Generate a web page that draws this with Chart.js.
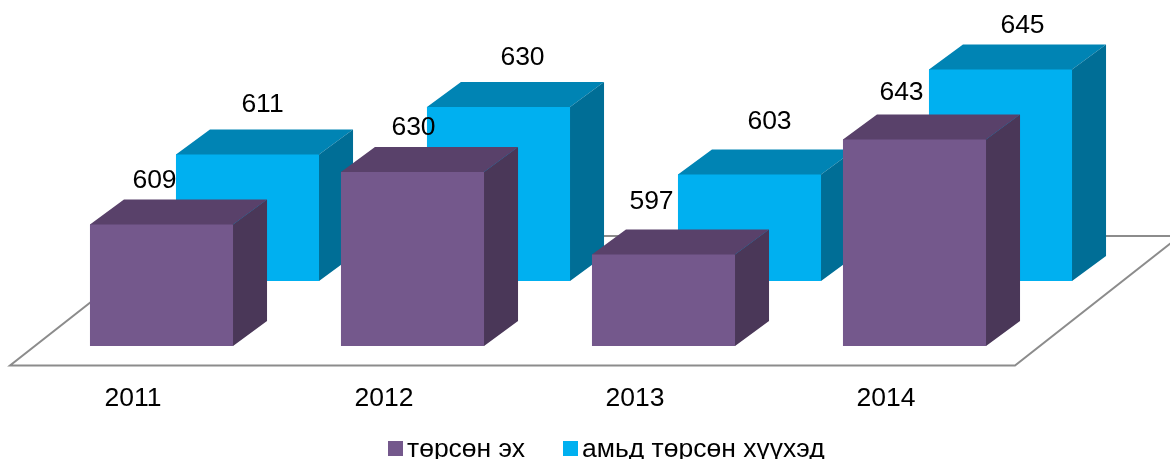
<!DOCTYPE html>
<html>
<head>
<meta charset="utf-8">
<script src="https://cdn.jsdelivr.net/npm/chart.js@4"></script>
<style>
  html, body { margin: 0; padding: 0; background: #fff; overflow: hidden; }
  canvas { display: block; }
</style>
</head>
<body>
<canvas id="chart" width="1170" height="459"></canvas>
<script>
const years = ['2011', '2012', '2013', '2014'];
const mothers = [609, 630, 597, 643];
const liveBirths = [611, 630, 603, 645];

const FONT = '"Liberation Sans", Arial, sans-serif';
const AXIS_MIN = 560.4;
const AXIS_MAX = 698.8;

// 3d look: how far a box goes back, and how far the back row sits from the front row
const depth = { x: 34, y: -25 };
const rowShift = [{ x: 0, y: 0 }, { x: 86, y: -65 }];

const faces = [
  { top: '#59416a', side: '#4a3758' },
  { top: '#0084b4', side: '#006e96' }
];

// value labels were placed by hand in the original, offset from the top middle of each box
const labelNudge = [
  [[-7, -44], [1, -44], [-12, -53], [-13, -47]],
  [[15, -50], [24, -49], [20, -53], [22, -44]]
];

function poly(ctx, pts, color) {
  ctx.fillStyle = color;
  ctx.beginPath();
  pts.forEach((p, i) => i ? ctx.lineTo(p[0], p[1]) : ctx.moveTo(p[0], p[1]));
  ctx.closePath();
  ctx.fill();
}

const boxes3d = {
  id: 'boxes3d',
  beforeDatasetsDraw(chart) {
    // floor
    const ctx = chart.ctx;
    ctx.save();
    ctx.strokeStyle = '#8c8c8c';
    ctx.lineWidth = 2;
    ctx.beginPath();
    ctx.moveTo(175, 236);
    ctx.lineTo(10, 365.5);
    ctx.lineTo(1015, 365.5);
    ctx.lineTo(1180, 236);
    ctx.closePath();
    ctx.stroke();
    ctx.restore();
  },
  beforeDatasetDraw(chart, args) {
    const ctx = chart.ctx;
    const shift = rowShift[args.index];
    const face = faces[args.index];
    ctx.save();
    ctx.translate(shift.x, shift.y);
    args.meta.data.forEach(bar => {
      const half = bar.width / 2;
      const l = bar.x - half, r = bar.x + half;
      // faces run 1px under the front so nothing shows through the seam
      poly(ctx, [[l, bar.y + 1], [l, bar.y], [l + depth.x, bar.y + depth.y], [r + depth.x, bar.y + depth.y], [r, bar.y], [r, bar.y + 1]], face.top);
      poly(ctx, [[r - 1, bar.y], [r, bar.y], [r + depth.x, bar.y + depth.y], [r + depth.x, bar.base + depth.y], [r, bar.base], [r - 1, bar.base]], face.side);
    });
  },
  afterDatasetDraw(chart) {
    chart.ctx.restore();
  },
  afterDatasetsDraw(chart) {
    const ctx = chart.ctx;
    ctx.save();
    ctx.font = '26.5px ' + FONT;
    ctx.fillStyle = '#000';
    ctx.textAlign = 'center';
    ctx.textBaseline = 'middle';
    chart.data.datasets.forEach((ds, i) => {
      chart.getDatasetMeta(i).data.forEach((bar, j) => {
        const n = labelNudge[i][j];
        ctx.fillText(ds.data[j], bar.x + rowShift[i].x + n[0], bar.y + rowShift[i].y + n[1]);
      });
    });
    // legend, the gap between square and text is tighter than the built in one
    ctx.textAlign = 'left';
    const legendX = [388, 563];
    chart.data.datasets.forEach((ds, i) => {
      ctx.fillStyle = ds.backgroundColor;
      ctx.fillRect(legendX[i], 441, 15, 15);
      ctx.fillStyle = '#000';
      ctx.fillText(ds.label, legendX[i] + 19, 450);
    });
    ctx.restore();
  }
};

new Chart(document.getElementById('chart').getContext('2d'), {
  type: 'bar',
  data: {
    labels: years,
    datasets: [
      { label: 'төрсөн эх', data: mothers, backgroundColor: '#74588c', base: AXIS_MIN, order: 1, grouped: false, clip: false },
      { label: 'амьд төрсөн хүүхэд', data: liveBirths, backgroundColor: '#00b0f0', base: AXIS_MIN, order: 2, grouped: false, clip: false }
    ]
  },
  plugins: [boxes3d],
  options: {
    responsive: false,
    animation: false,
    layout: { padding: { left: 36, right: 130, top: 0, bottom: 0 } },
    categoryPercentage: 1,
    barPercentage: 0.57,
    plugins: {
      legend: { display: false },
      tooltip: { enabled: false }
    },
    scales: {
      x: {
        grid: { display: false },
        border: { display: false },
        afterFit(scale) { scale.height = 113; },
        ticks: {
          color: '#000',
          font: { family: FONT, size: 26.5 },
          labelOffset: -28.5,
          padding: 29,
          maxRotation: 0
        }
      },
      y: {
        display: false,
        min: AXIS_MIN,
        max: AXIS_MAX
      }
    }
  }
});
</script>
</body>
</html>
